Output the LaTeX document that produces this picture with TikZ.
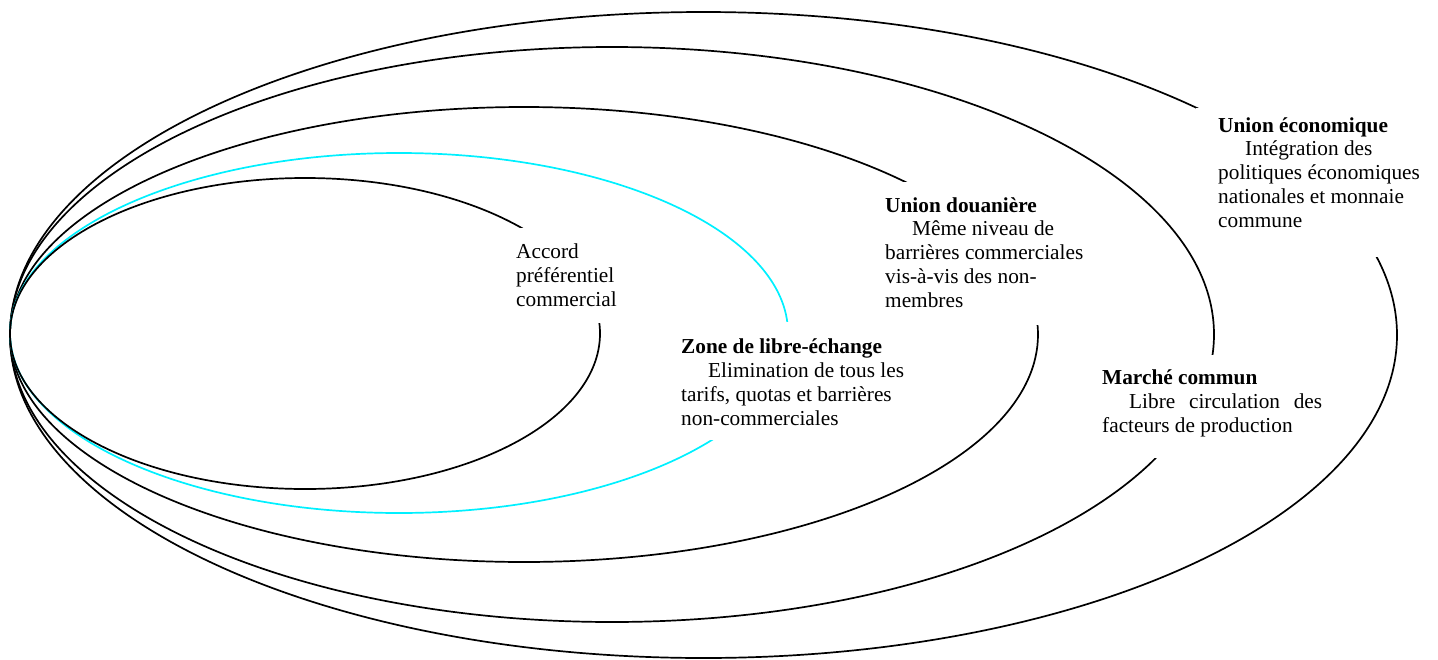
\documentclass[tikz,border=0pt]{standalone}
\usepackage{fontspec}
\setmainfont{Liberation Serif}
\definecolor{cyanline}{RGB}{0,240,255}
\begin{document}
\begin{tikzpicture}[x=1pt,y=-1pt,
  ring/.style={draw=black,line width=1.7pt},
  cring/.style={draw=cyanline,line width=1.7pt},
  mask/.style={fill=white,draw=none},
  lbl/.style={anchor=base west,align=left,inner sep=0pt,font=\fontsize{21.3}{23.9}\selectfont}]
\useasboundingbox (0,0) rectangle (1438,659);
% nested rings, all touching at the left
\draw[ring] (703.5,335) ellipse [x radius=693.5, y radius=323];
\draw[ring] (612,334.5) ellipse [x radius=602, y radius=287.5];
\draw[ring] (524,334.5) ellipse [x radius=514, y radius=227.5];
\draw[cring] (399,333) ellipse [x radius=389, y radius=180];
\draw[ring] (305,333.5) ellipse [x radius=295, y radius=155.5];
% white text boxes hiding the rings
\fill[mask] (512,228) rectangle (622,323);
\fill[mask] (672,322) rectangle (910,440);
\fill[mask] (876,182) rectangle (1096,325);
\fill[mask] (1096,355) rectangle (1335,458);
\fill[mask] (1196,108) rectangle (1425,257);
% labels (anchored at the baseline of their last line)
\node[lbl] (acc) at (516,306) {Accord\\préférentiel\\commercial};
\node[lbl] (zle) at (681,425.5) {\textbf{Zone de libre-échange}\\\hspace*{27pt}Elimination de tous les\\tarifs, quotas et barrières\\non-commerciales};
\node[lbl] (ud) at (885,307.6) {\textbf{Union douanière}\\\hspace*{27pt}Même niveau de\\barrières commerciales\\vis-à-vis des non-\\membres};
\node[lbl] (mc) at (1102,432.5) {\textbf{Marché commun}\\\hspace*{27pt}\makebox[193pt][s]{Libre circulation des}\\facteurs de production};
\node[lbl] (ue) at (1218,227.6) {\textbf{Union économique}\\\hspace*{27pt}Intégration des\\politiques économiques\\nationales et monnaie\\commune};
\end{tikzpicture}
\end{document}
